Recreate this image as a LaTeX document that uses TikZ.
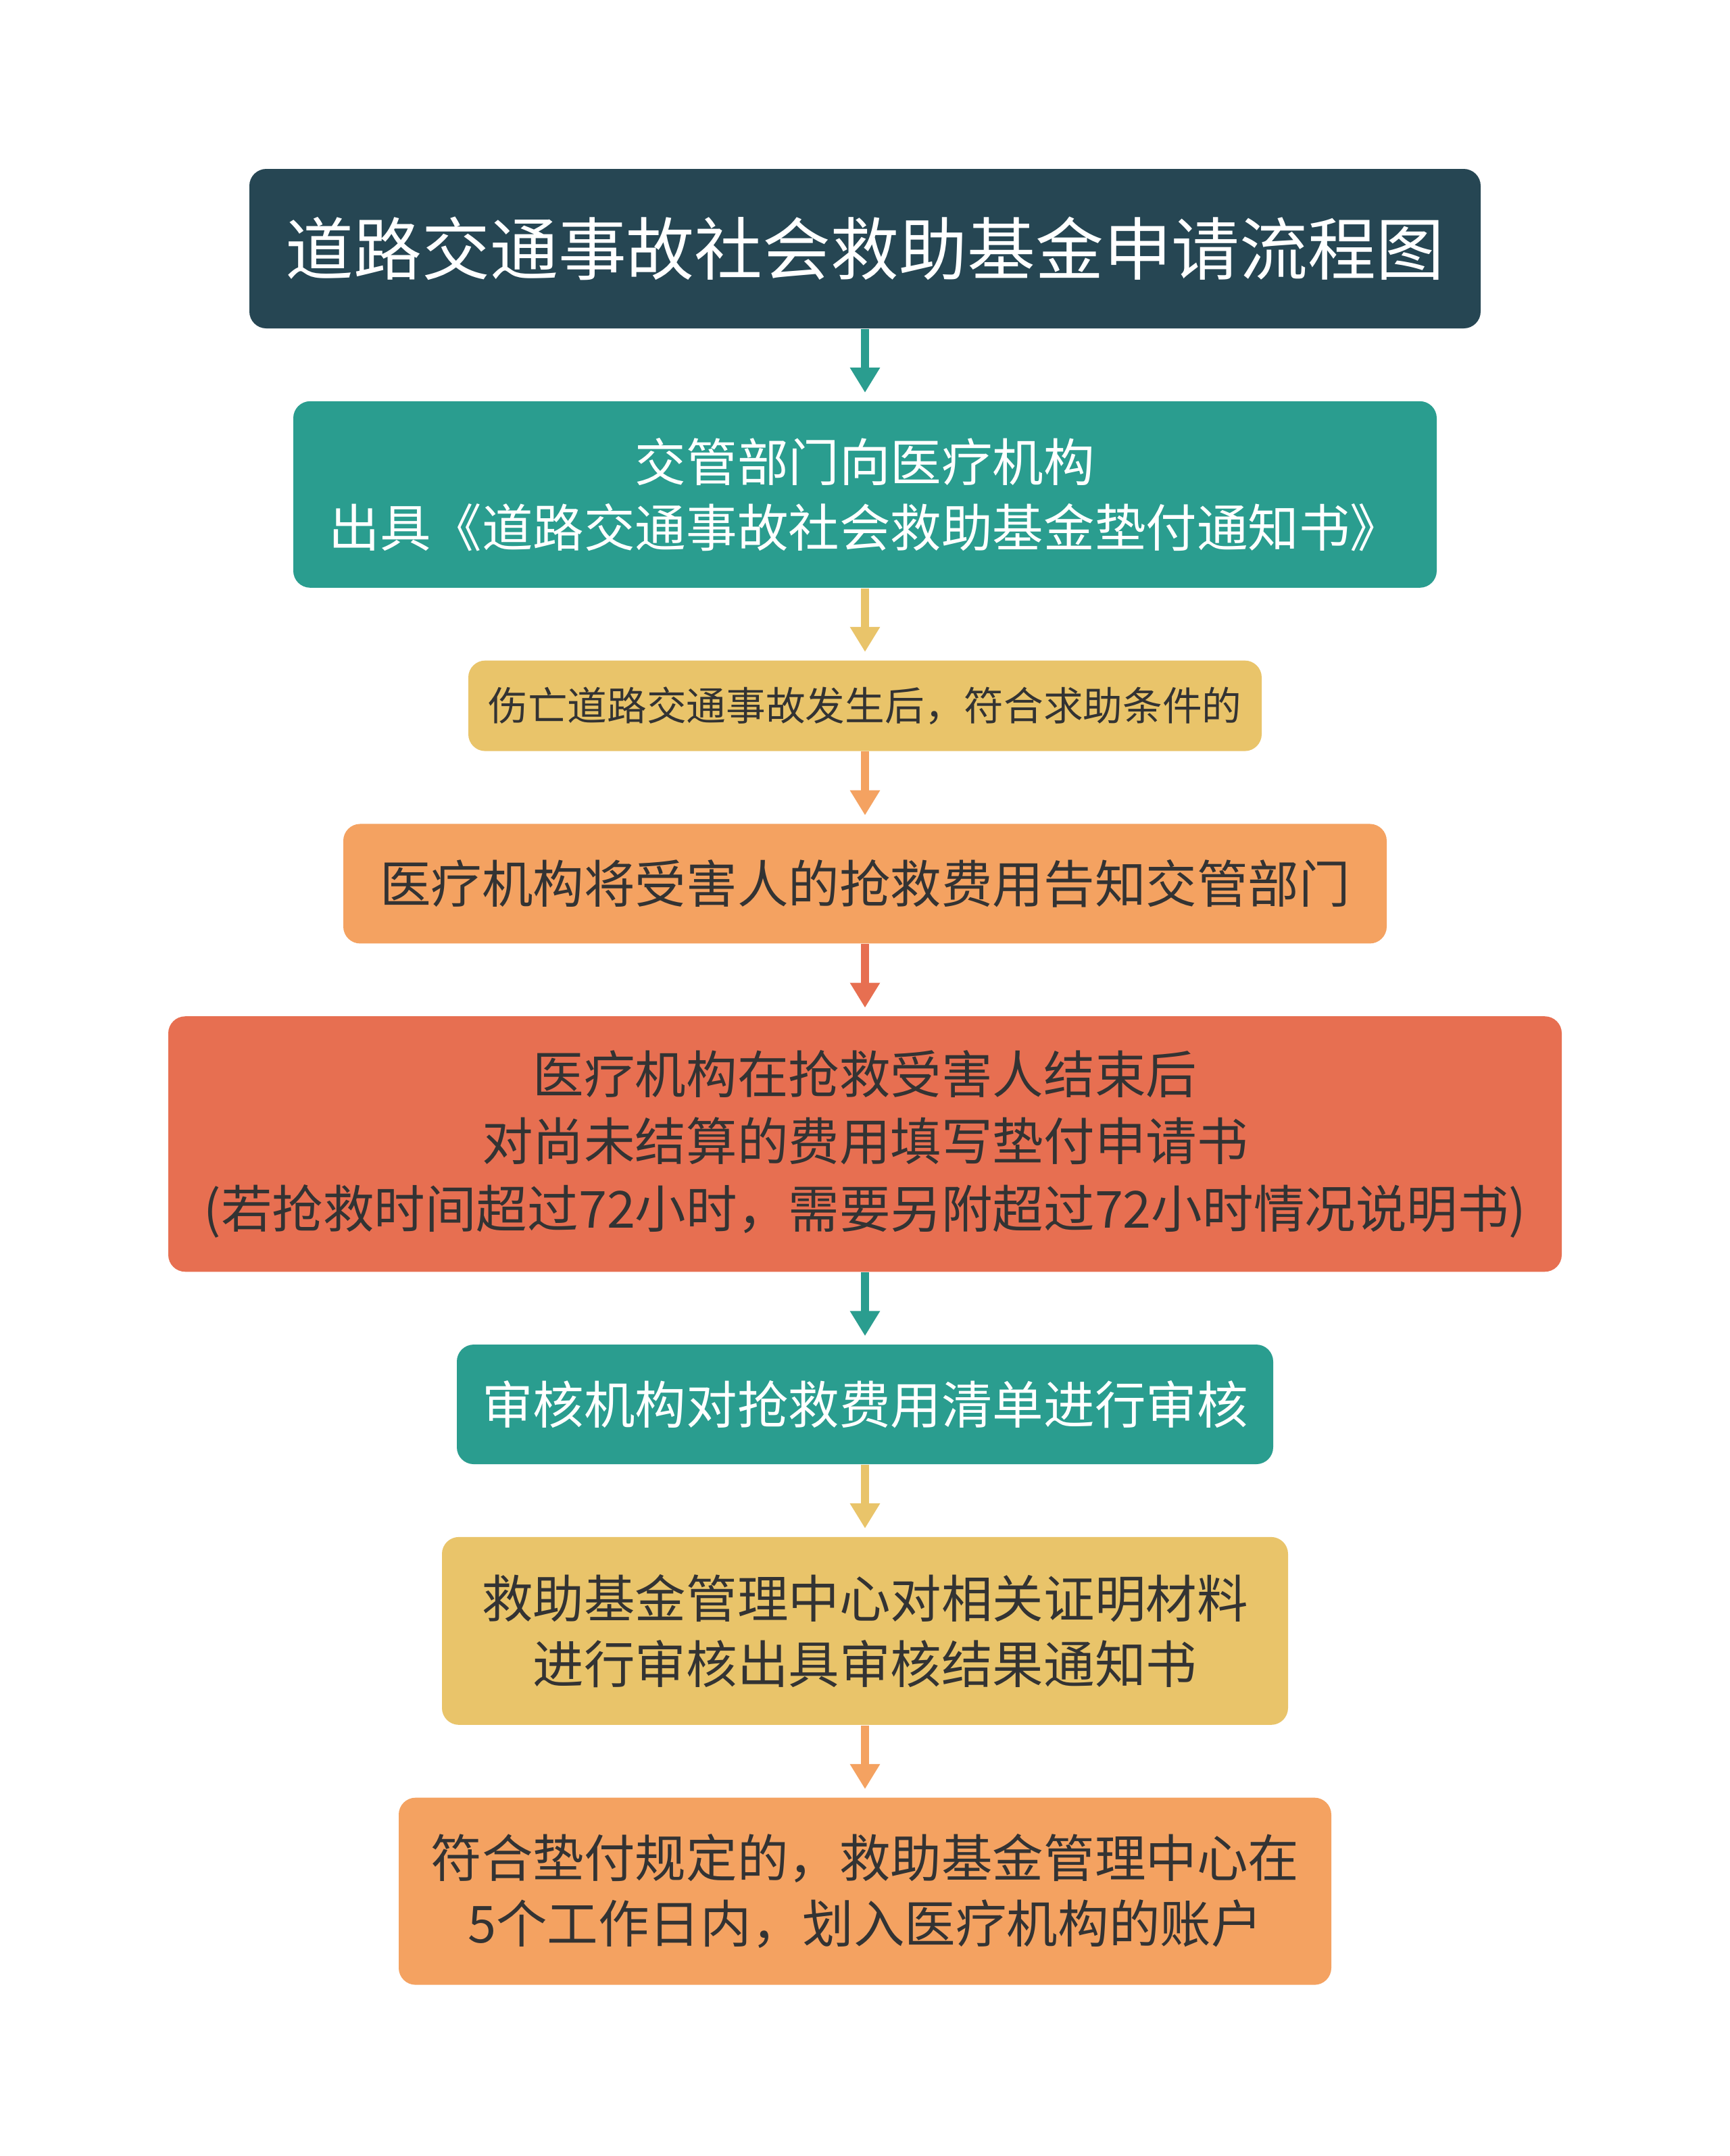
\documentclass[tikz,border=0pt]{standalone}
\usepackage{fontspec}
\newfontfamily\cjk{Noto Sans CJK SC}
\usetikzlibrary{arrows.meta,positioning}
\definecolor{cnavy}{HTML}{264653}
\definecolor{cteal}{HTML}{2A9D8F}
\definecolor{cyellow}{HTML}{E9C46A}
\definecolor{corange}{HTML}{F4A261}
\definecolor{cred}{HTML}{E76F51}
\definecolor{ctext}{HTML}{333333}
\tikzset{
  box/.style={rounded corners=0.25cm, align=center, inner sep=0pt, text=ctext,
    font=\cjk\fontsize{21.5pt}{27.6pt}\selectfont},
  flow/.style={-{Triangle[width=0.42cm,length=0.37cm]}, line width=0.12cm, shorten >=0.12cm},
}

\begin{document}
\begin{tikzpicture}[node distance=1.064cm]
\useasboundingbox[fill=white] (0,0) rectangle (25.6,-31.91);
\node[box, fill=cnavy, text=white, minimum width=18.22cm, minimum height=2.36cm,
  font=\cjk\fontsize{28.7pt}{32pt}\selectfont] (title) at (12.8,-3.68) {道路交通事故社会救助基金申请流程图};
\node[box, fill=cteal, text=white, minimum width=16.92cm, minimum height=2.76cm, below=of title] (notice)
  {交管部门向医疗机构\\出具《道路交通事故社会救助基金垫付通知书》};
\node[box, fill=cyellow, minimum width=11.74cm, minimum height=1.34cm,
  font=\cjk\fontsize{16.7pt}{20pt}\selectfont, below=of notice] (accident) {伤亡道路交通事故发生后，符合求助条件的};
\node[box, fill=corange, minimum width=15.44cm, minimum height=1.77cm, below=of accident] (inform)
  {医疗机构将受害人的抢救费用告知交管部门};
\node[box, fill=cred, minimum width=20.62cm, minimum height=3.78cm, below=of inform,
  font=\cjk\fontsize{21.5pt}{28.4pt}\selectfont] (apply)
  {医疗机构在抢救受害人结束后\\对尚未结算的费用填写垫付申请书\\(若抢救时间超过72小时，需要另附超过72小时情况说明书)};
\node[box, fill=cteal, text=white, minimum width=12.08cm, minimum height=1.77cm, below=of apply] (audit)
  {审核机构对抢救费用清单进行审核};
\node[box, fill=cyellow, minimum width=12.52cm, minimum height=2.78cm, below=of audit] (center)
  {救助基金管理中心对相关证明材料\\进行审核出具审核结果通知书};
\node[box, fill=corange, minimum width=13.80cm, minimum height=2.77cm, below=of center] (pay)
  {符合垫付规定的，救助基金管理中心在\\5个工作日内，划入医疗机构的账户};
% connectors take the colour of the box they point to
\draw[flow, cteal] (title.south) -- (notice.north);
\draw[flow, cyellow] (notice.south) -- (accident.north);
\draw[flow, corange] (accident.south) -- (inform.north);
\draw[flow, cred] (inform.south) -- (apply.north);
\draw[flow, cteal] (apply.south) -- (audit.north);
\draw[flow, cyellow] (audit.south) -- (center.north);
\draw[flow, corange] (center.south) -- (pay.north);
\end{tikzpicture}
\end{document}
